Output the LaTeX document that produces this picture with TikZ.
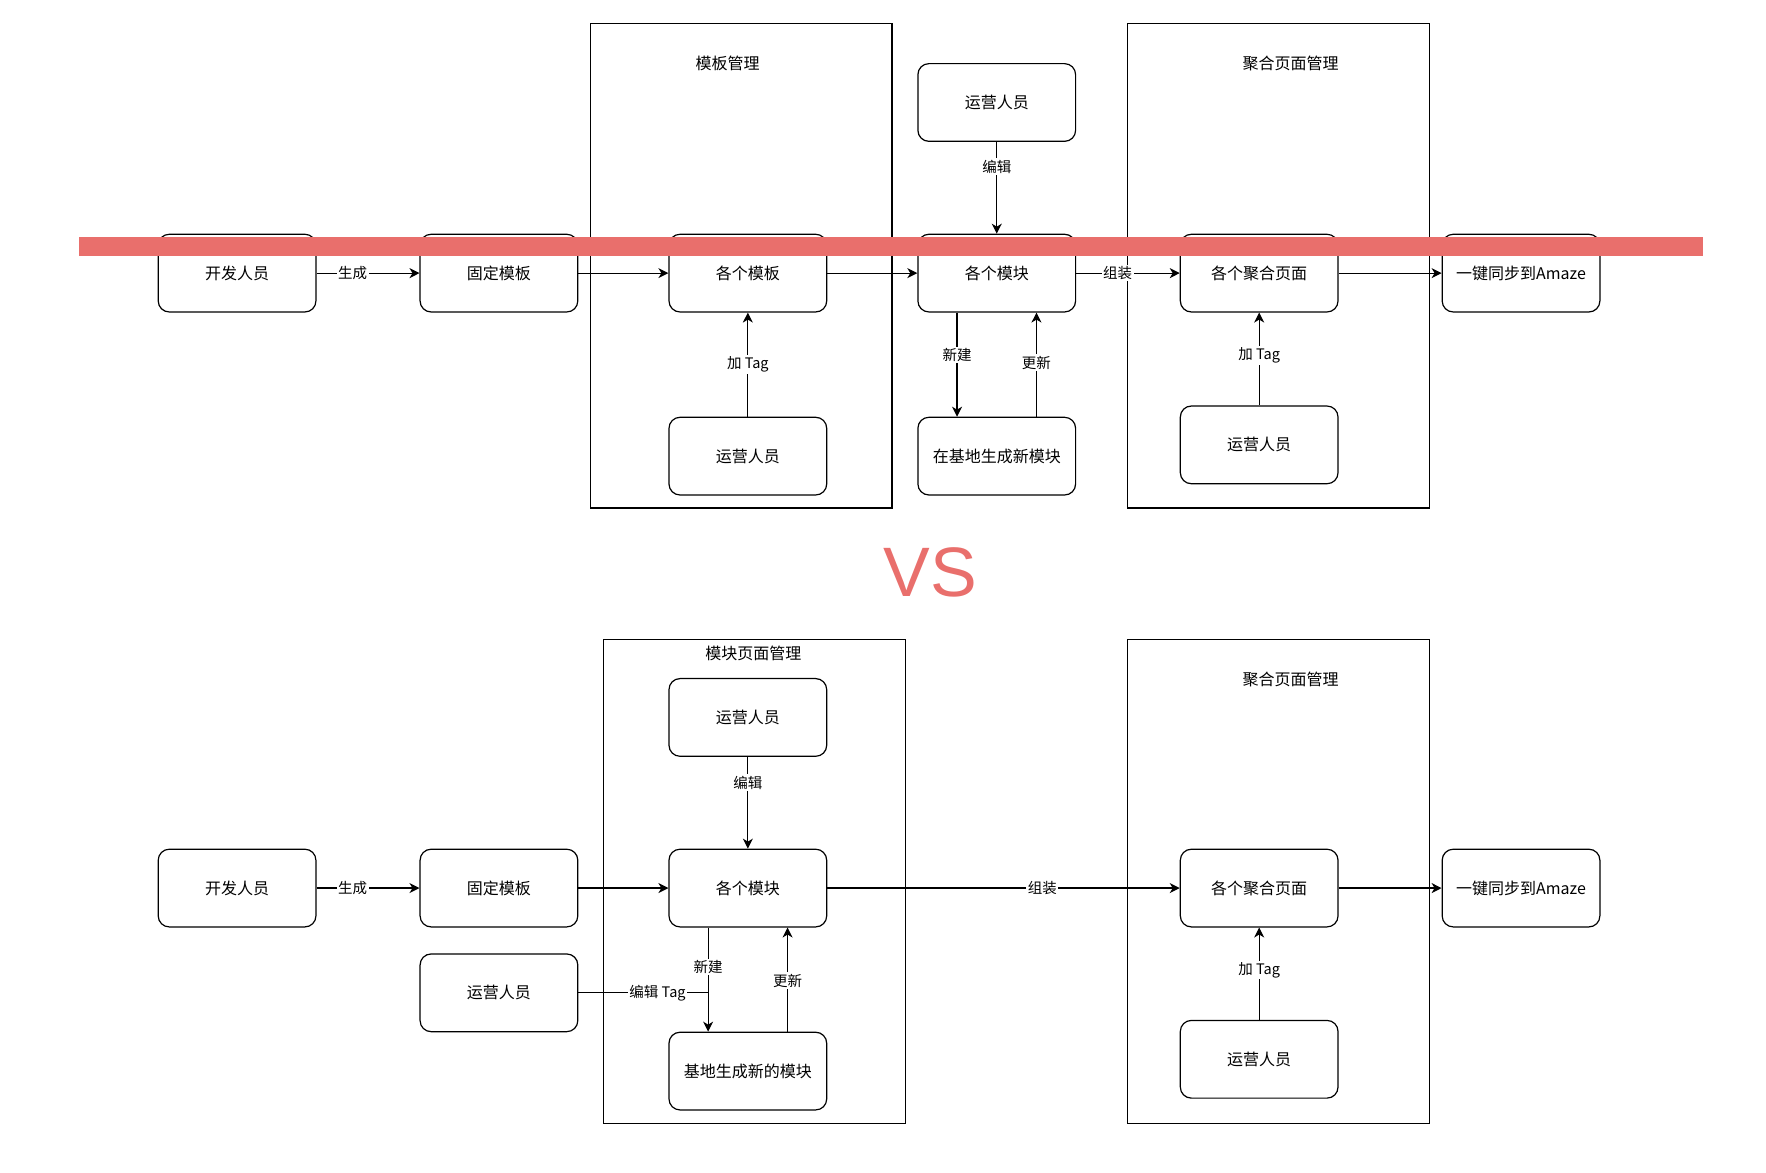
\documentclass[tikz,border=0pt]{standalone}
\usepackage{fontspec}
\setmainfont{Noto Sans CJK SC}
\newfontfamily\vsfont{Liberation Sans}
\usetikzlibrary{arrows.meta,calc}
\definecolor{barred}{HTML}{E96F6C}

\begin{document}
\begin{tikzpicture}[x=1.1263pt,y=-1.1263pt,
  box/.style={draw, line width=1.2pt, rounded corners=11pt, minimum width=157.7pt,
    minimum height=77.7pt, font=\fontsize{16}{19}\selectfont, inner sep=0pt},
  group/.style={draw, line width=1.2pt, minimum width=301.8pt, minimum height=484.3pt, inner sep=0pt},
  title/.style={font=\fontsize{16}{19}\selectfont},
  lbl/.style={fill=white, inner sep=1.5pt, font=\fontsize{14.5}{17}\selectfont},
  flow/.style={draw, line width=1.2pt, -{Stealth[length=10pt,width=10pt,inset=3pt]}},
  link/.style={draw, line width=1.2pt}]
\useasboundingbox (0,0) rectangle (1568,1041);

% ---------- upper scheme ----------
\node[group] (gA) at (658,236) {};
\node[title] (tA) at (646,56) {模板管理};
\node[group] (gB) at (1135,236) {};
\node[title] (tB) at (1146,56) {聚合页面管理};

\node[box] (dev1) at (210.5,242.5) {开发人员};
\node[box] (tpl1) at (443,242.5) {固定模板};
\node[box] (tpls1) at (664,242.5) {各个模板};
\node[box] (mods1) at (885,242.5) {各个模块};
\node[box] (pages1) at (1118,242.5) {各个聚合页面};
\node[box] (sync1) at (1350.5,242.5) {一键同步到Amaze};
\node[box] (opA) at (885,91) {运营人员};
\node[box] (opB) at (664,405) {运营人员};
\node[box] (gen1) at (885,405) {在基地生成新模块};
\node[box] (opC) at (1118,395) {运营人员};

\draw[flow] (dev1) -- node[lbl,pos=0.35]{生成} (tpl1);
\draw[flow] (tpl1) -- (tpls1);
\draw[flow] (tpls1) -- (mods1);
\draw[flow] (mods1) -- node[lbl,pos=0.4]{组装} (pages1);
\draw[flow] (pages1) -- (sync1);
\draw[flow] (opA) -- node[lbl,pos=0.27]{编辑} (mods1);
\draw[flow] (opB) -- node[lbl,pos=0.5]{加 Tag} (tpls1);
\draw[flow] ($(mods1.south west)!0.25!(mods1.south east)$) -- node[lbl,pos=0.41]{新建}
  ($(gen1.north west)!0.25!(gen1.north east)$);
\draw[flow] ($(gen1.north west)!0.75!(gen1.north east)$) -- node[lbl,pos=0.52]{更新}
  ($(mods1.south west)!0.75!(mods1.south east)$);
\draw[flow] (opC) -- node[lbl,pos=0.54]{加 Tag} (pages1);

% ---------- lower scheme ----------
\node[group] (gC) at (670,782.5) {};
\node[title] (tC) at (669,580) {模块页面管理};
\node[group] (gD) at (1135,782.5) {};
\node[title] (tD) at (1146,603) {聚合页面管理};

\node[box] (dev2) at (210.5,788.5) {开发人员};
\node[box] (tpl2) at (443,788.5) {固定模板};
\node[box] (mods2) at (664,788.5) {各个模块};
\node[box] (opD) at (664,637) {运营人员};
\node[box] (opE) at (443,881.5) {运营人员};
\node[box] (gen2) at (664,951) {基地生成新的模块};
\node[box] (pages2) at (1118,788.5) {各个聚合页面};
\node[box] (sync2) at (1350.5,788.5) {一键同步到Amaze};
\node[box] (opF) at (1118,940.5) {运营人员};

\draw[flow] (dev2) -- node[lbl,pos=0.35]{生成} (tpl2);
\draw[flow] (tpl2) -- (mods2);
\draw[flow] (opD) -- node[lbl,pos=0.28]{编辑} (mods2);
\draw[flow] (mods2) -- node[lbl,pos=0.61]{组装} (pages2);
\draw[flow] (pages2) -- (sync2);
\draw[flow] (opF) -- node[lbl,pos=0.54]{加 Tag} (pages2);
\coordinate (newtop) at ($(mods2.south west)!0.25!(mods2.south east)$);
\coordinate (newend) at ($(gen2.north west)!0.25!(gen2.north east)$);
\draw[flow] (newtop) -- node[lbl,pos=0.38]{新建} (newend);
\draw[flow] ($(gen2.north west)!0.75!(gen2.north east)$) -- node[lbl,pos=0.49]{更新}
  ($(mods2.south west)!0.75!(mods2.south east)$);
\coordinate (join) at (newtop |- opE.east);
\draw[link] (opE.east) -- node[lbl,pos=0.61]{编辑 Tag} (join);

% ---------- separator ----------
\node[text=barred, font=\vsfont\fontsize{70}{70}\selectfont, inner sep=0pt] (vs) at (826,508) {VS};

% strike-through bar across the upper row
\fill[barred] (70,210) rectangle (1512,227);
\end{tikzpicture}
\end{document}
